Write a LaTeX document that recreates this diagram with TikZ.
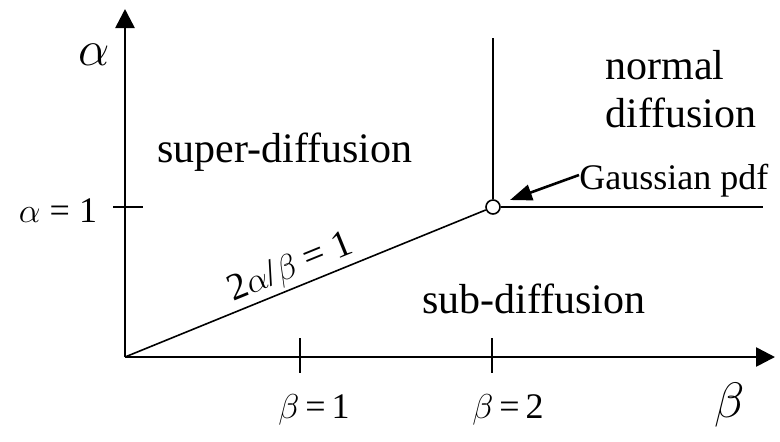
\documentclass[tikz,border=0pt]{standalone}
\usepackage{fontspec}
\setmainfont{Liberation Serif}
\usetikzlibrary{arrows.meta, positioning, calc}
\newcommand{\ga}{\ensuremath{\alpha}}
\newcommand{\gb}{\ensuremath{\beta}}

\begin{document}
\begin{tikzpicture}[
  x=0.5pt, y=-0.5pt,
  axis/.style={line width=1.3pt, -{Triangle[length=9.5pt, width=9.5pt]}},
  thinline/.style={line width=0.8pt},
  tick/.style={line width=0.8pt},
  region/.style={font=\fontsize{21}{24}\selectfont, inner sep=0pt},
  ticklbl/.style={font=\fontsize{18}{20}\selectfont, inner sep=0pt},
  axislbl/.style={inner sep=0pt},
  garr/.style={line width=1.3pt, -{Triangle[length=11pt, width=8pt]}}
]
  \useasboundingbox (0,0) rectangle (780,441);

  % Axes
  \coordinate (O) at (125,357);
  \coordinate (ytop) at (125,9);
  \coordinate (xend) at (775,357);
  \draw[axis] (O) -- (ytop);
  \draw[axis] (O) -- (xend);
  \node[axislbl, font=\fontsize{33}{33}\selectfont] (alab) at (94,55) {\ga};
  \node[axislbl, font=\fontsize{38}{38}\selectfont] (blab) at (730,405) {\gb};

  % Ticks
  \draw[tick] (300,338) -- (300,373);
  \draw[tick] (492,338) -- (492,373);
  \draw[tick] (113,207) -- (143,207);
  \node[ticklbl] (b1) at (314,410) {\gb\,=\,1};
  \node[ticklbl] (b2) at (508,410) {\gb\,=\,2};
  \node[ticklbl] (a1) at (58,211) {\ga\ =\ 1};

  % Boundaries
  \node[draw, circle, thinline, minimum size=7pt, inner sep=0pt] (gp) at (493,207) {};
  \coordinate (vtop) at (493,38);
  \coordinate (hend) at (763,207);
  \draw[thinline] (O) -- node[pos=0.48, sloped, above, inner sep=1.5pt,
    font=\fontsize{19}{20}\selectfont] (crit) {2\ga/\gb\ =\ 1} (gp);
  \draw[thinline] (gp) -- (vtop);
  \draw[thinline] (gp) -- (hend);

  % Regions
  \node[region, anchor=base] (super) at (285,162) {super-diffusion};
  \node[region, anchor=base] (sub) at (534,313) {sub-diffusion};
  \node[region, anchor=north west, align=left] (normal) at (605,50) {normal\\diffusion};

  % Gaussian pdf
  \node[anchor=west, inner sep=0pt, font=\fontsize{18}{20}\selectfont] (gauss) at (579,181) {Gaussian pdf};
  \coordinate (gtip) at (510,200);
  \draw[garr] ([yshift=3pt]gauss.west) -- (gtip);
\end{tikzpicture}
\end{document}
